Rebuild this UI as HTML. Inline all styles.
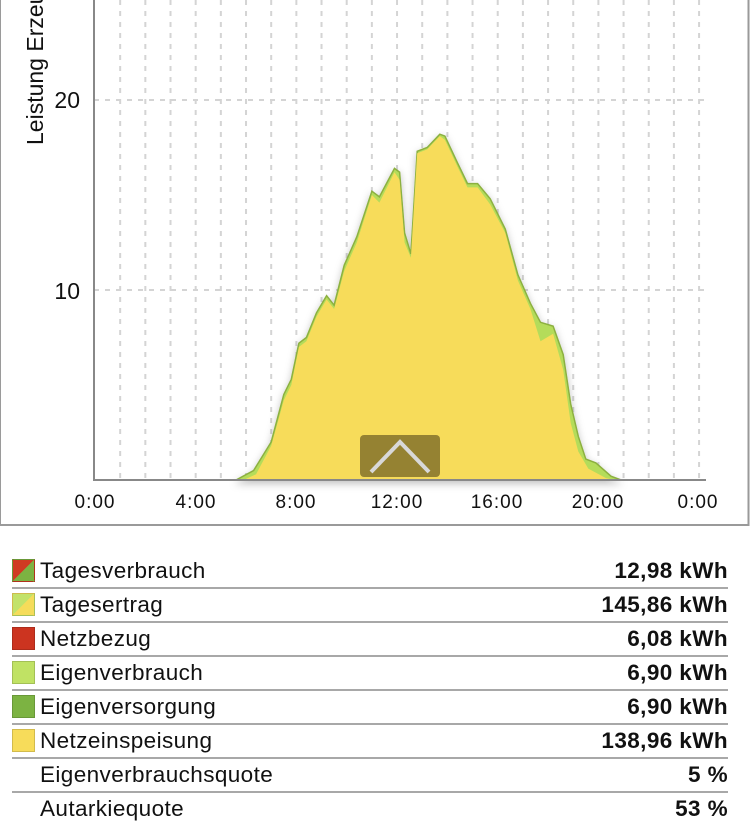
<!DOCTYPE html>
<html><head><meta charset="utf-8"><style>
html,body{margin:0;padding:0;background:#fff;width:750px;height:824px;overflow:hidden;font-family:"Liberation Sans",sans-serif}
.row{position:absolute;left:12px;width:716px;height:33px;border-bottom:2px solid #a8a8a8;font-size:22.5px;color:#111;letter-spacing:0.4px}
.row .l{position:absolute;left:28px;top:4px}
.row .r{position:absolute;right:0;top:4px;font-weight:bold}
.ic{position:absolute;left:0;top:5px;width:23px;height:23px;box-sizing:border-box;border:1px solid rgba(0,0,0,.15)}
</style></head><body>
<svg id="c" width="750" height="530" style="position:absolute;left:0;top:0">
<defs><filter id="sh" x="-10%" y="-10%" width="120%" height="130%"><feDropShadow dx="0" dy="3" stdDeviation="4" flood-color="#000" flood-opacity="0.25"/></filter></defs>
<rect x="0" y="-5" width="748.5" height="530" fill="#fff" stroke="#9a9a9a" stroke-width="2"/>
<g id="grid" stroke="#d4d4d4" stroke-width="2" stroke-dasharray="5,6"></g>
<g id="area" filter="url(#sh)"></g>
<line x1="94" y1="0" x2="94" y2="481" stroke="#888" stroke-width="2"/>
<line x1="94" y1="480" x2="706" y2="480" stroke="#888" stroke-width="2"/>
<text x="80" y="108" font-size="23" text-anchor="end" fill="#111">20</text>
<text x="80" y="299" font-size="23" text-anchor="end" fill="#111">10</text>
<text transform="translate(43,145) rotate(-90)" font-size="23" fill="#111">Leistung Erzeugung</text>
<g font-size="19" fill="#111" text-anchor="middle" letter-spacing="1">
<text x="95" y="508">0:00</text><text x="196" y="508">4:00</text><text x="296" y="508">8:00</text><text x="397" y="508">12:00</text><text x="497" y="508">16:00</text><text x="598" y="508">20:00</text><text x="698" y="508">0:00</text>
</g>
<rect x="360" y="435" width="80" height="42" rx="4" fill="#958232"/>
<polyline points="371,472 400,442 429,472" fill="none" stroke="#d8d8d8" stroke-width="4"/>
</svg>
<script>
var X=h=>95+25.17*h, Y=v=>480-19*v;
var g=document.getElementById('grid'),s='';
for(var h=1;h<=24;h++)s+='<line x1="'+X(h)+'" y1="0" x2="'+X(h)+'" y2="480"/>';
s+='<line x1="94" y1="100" x2="706" y2="100"/><line x1="94" y1="290" x2="706" y2="290"/>';
g.innerHTML=s;
var yel=[[5.9,0],[6.4,0.3],[7,1.8],[7.5,4.2],[7.8,5],[8.1,7],[8.4,7.3],[8.8,8.6],[9.2,9.5],[9.5,9],[9.9,11],[10.4,12.5],[11,15],[11.3,14.6],[11.9,16.2],[12.1,15.8],[12.3,12.5],[12.55,11.7],[12.8,17.2],[13.2,17.4],[13.7,18.1],[13.9,17.9],[14.4,16.5],[14.8,15.4],[15.2,15.4],[15.7,14.5],[16.3,13],[16.8,10.5],[17.3,9],[17.7,7.3],[18.2,7.7],[18.6,5.8],[18.9,3],[19.2,1.5],[19.6,0.6],[20.3,0.1],[20.7,0]];
var grn=[[5.6,0],[6.3,0.5],[7,2],[7.5,4.5],[7.8,5.3],[8.1,7.2],[8.4,7.5],[8.8,8.8],[9.2,9.7],[9.5,9.2],[9.9,11.3],[10.4,12.8],[11,15.2],[11.3,14.9],[11.9,16.4],[12.1,16.2],[12.3,13],[12.55,11.9],[12.8,17.3],[13.2,17.5],[13.7,18.2],[13.9,18.1],[14.4,16.7],[14.8,15.6],[15.2,15.6],[15.7,14.8],[16.3,13.2],[16.8,10.8],[17.3,9.3],[17.7,8.3],[18.2,8.1],[18.6,6.6],[18.9,4],[19.2,2.3],[19.5,1.1],[19.9,0.9],[20.5,0.2],[20.9,0]];
function p(a){return 'M'+X(a[0][0])+',480 '+a.map(q=>'L'+X(q[0]).toFixed(1)+','+Y(q[1]).toFixed(1)).join(' ')+' Z';}
document.getElementById('area').innerHTML='<path d="'+p(grn)+'" fill="#b4dc5a" stroke="#8cb040" stroke-width="1.5"/><path d="'+p(yel)+'" fill="#f7dc5a"/>';
</script>
<div class="row" style="top:554px"><div class="ic" style="background:linear-gradient(135deg,#d03a22 50%,#7cb342 50%)"></div><span class="l">Tagesverbrauch</span><span class="r">12,98 kWh</span></div>
<div class="row" style="top:588px"><div class="ic" style="background:linear-gradient(135deg,#c2e26a 50%,#f5dc5a 50%)"></div><span class="l">Tagesertrag</span><span class="r">145,86 kWh</span></div>
<div class="row" style="top:622px"><div class="ic" style="background:#cc3420"></div><span class="l">Netzbezug</span><span class="r">6,08 kWh</span></div>
<div class="row" style="top:656px"><div class="ic" style="background:#c0e264"></div><span class="l">Eigenverbrauch</span><span class="r">6,90 kWh</span></div>
<div class="row" style="top:690px"><div class="ic" style="background:#7cb342"></div><span class="l">Eigenversorgung</span><span class="r">6,90 kWh</span></div>
<div class="row" style="top:724px"><div class="ic" style="background:#f7dc5a"></div><span class="l">Netzeinspeisung</span><span class="r">138,96 kWh</span></div>
<div class="row" style="top:758px"><span class="l">Eigenverbrauchsquote</span><span class="r">5 %</span></div>
<div class="row" style="top:792px;border-bottom:none"><span class="l">Autarkiequote</span><span class="r">53 %</span></div>
</body></html>
